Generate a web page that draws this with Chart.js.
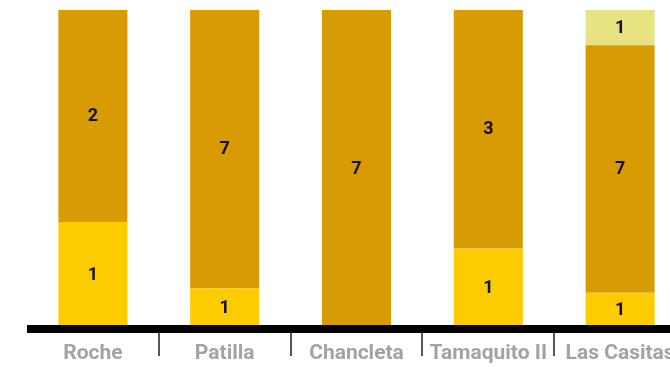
<!DOCTYPE html>
<html>
<head>
<meta charset="utf-8">
<script src="https://cdn.jsdelivr.net/npm/chart.js@4.4.1/dist/chart.umd.min.js"></script>
<style>
  html, body { margin: 0; padding: 0; background: #fff; overflow: hidden; }
  #wrap { width: 690px; height: 367px; }
</style>
</head>
<body>
<div id="wrap"><canvas id="c" width="690" height="367"></canvas></div>
<script>
// Communities along the x axis
const categories = ['Roche', 'Patilla', 'Chancleta', 'Tamaquito II', 'Las Casitas'];

// Counts per group, stacked bottom to top
const bottomCounts = [1, 1, 0, 1, 1];
const middleCounts = [2, 7, 7, 3, 7];
const topCounts    = [0, 0, 0, 0, 1];

const seriesCounts = [bottomCounts, middleCounts, topCounts];
const seriesColors = ['#FCCB00', '#D99B03', '#E8E382'];

// Each bar shows its share of the community total
const totals = categories.map((_, i) => seriesCounts.reduce((s, arr) => s + arr[i], 0));
const toShare = arr => arr.map((v, i) => totals[i] ? v / totals[i] * 100 : 0);

const datasets = seriesCounts.map((counts, k) => ({
  data: toShare(counts),
  counts: counts,
  backgroundColor: seriesColors[k],
  borderWidth: 0,
  barPercentage: 0.524,
  categoryPercentage: 1
}));

// Count labels centred in each segment
const segmentLabels = {
  id: 'segmentLabels',
  afterDatasetsDraw(chart) {
    const ctx = chart.ctx;
    ctx.save();
    ctx.font = 'bold 18px Roboto';
    ctx.fillStyle = '#111';
    ctx.textAlign = 'center';
    ctx.textBaseline = 'middle';
    chart.data.datasets.forEach((ds, di) => {
      chart.getDatasetMeta(di).data.forEach((bar, i) => {
        const v = ds.counts[i];
        if (!v) return;
        const { x, y, base } = bar.getProps(['x', 'y', 'base'], true);
        ctx.fillText(String(v), x, (y + base) / 2 + 0.5);
      });
    });
    ctx.restore();
  }
};

// Heavy baseline over the bar feet and short separators between communities
const baseAxis = {
  id: 'baseAxis',
  afterDatasetsDraw(chart) {
    const ctx = chart.ctx;
    const xs = chart.scales.x;
    const area = chart.chartArea;
    ctx.save();
    ctx.fillStyle = '#000';
    ctx.fillRect(area.left, area.bottom - 3, area.right - area.left, 8);
    ctx.strokeStyle = '#555';
    ctx.lineWidth = 2;
    for (let i = 1; i < categories.length; i++) {
      const bx = Math.round((xs.getPixelForValue(i - 1) + xs.getPixelForValue(i)) / 2);
      ctx.beginPath();
      ctx.moveTo(bx, area.bottom + 5);
      ctx.lineTo(bx, area.bottom + 28);
      ctx.stroke();
    }
    ctx.restore();
  }
};

new Chart(document.getElementById('c'), {
  type: 'bar',
  data: { labels: categories, datasets },
  options: {
    responsive: false,
    animation: false,
    layout: { padding: { left: 27, right: 4, top: 10, bottom: 0 } },
    plugins: { legend: { display: false }, tooltip: { enabled: false } },
    scales: {
      x: {
        stacked: true,
        grid: { display: false, drawTicks: false },
        border: { display: false },
        afterFit(scale) { scale.height = 39; },
        ticks: {
          color: '#A3A3A3',
          font: { family: 'Roboto', weight: 'bold', size: 21 },
          padding: 13,
          maxRotation: 0,
          autoSkip: false
        }
      },
      y: {
        stacked: true,
        display: false,
        min: 0,
        max: 100
      }
    }
  },
  plugins: [segmentLabels, baseAxis]
});
</script>
</body>
</html>
